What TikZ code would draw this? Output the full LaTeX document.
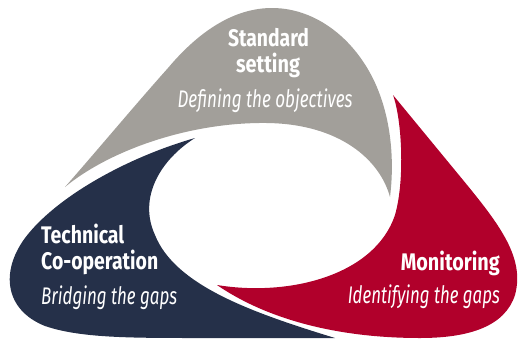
\documentclass[tikz,border=0pt]{standalone}
\usepackage{fontspec}
\usepackage{graphicx}
\setmainfont{Fira Sans}
\definecolor{cgray}{HTML}{A29F9A}
\definecolor{cnavy}{HTML}{253049}
\definecolor{cred}{HTML}{B1002B}
\newcommand{\fitw}[2]{\resizebox{#1}{\height}{#2}}
\tikzset{
  lbl/.style={text=white, inner sep=0pt, font=\fontsize{24}{26}\selectfont},
  hd/.style={lbl, font=\fontsize{24}{26}\selectfont\bfseries},
  sub/.style={lbl, font=\fontsize{24}{26}\selectfont\itshape},
}
\begin{document}
\begin{tikzpicture}[x=1pt,y=-1pt]
\useasboundingbox (0,0) rectangle (519,338);
% gray (top)
\fill[cgray] (65,187) .. controls (100,147) and (135,105) .. (168,68)
  .. controls (200,30) and (235,8) .. (272,8)
  .. controls (320,8) and (362,45) .. (380,95)
  .. controls (392,128) and (394,165) .. (390,197)
  .. controls (380,160) and (340,124) .. (267,123)
  .. controls (190,122) and (110,150) .. (65,187) -- cycle;
% navy (left)
\fill[cnavy] (195,138) .. controls (125,158) and (55,198) .. (25,238)
  .. controls (0,272) and (5,310) .. (45,326)
  .. controls (80,338) and (130,338) .. (200,338)
  -- (335,338)
  .. controls (250,312) and (175,285) .. (155,235)
  .. controls (138,198) and (160,160) .. (195,138) -- cycle;
% red (right)
\fill[cred] (393,95) -- (463,180)
  .. controls (500,225) and (525,258) .. (515,295)
  .. controls (505,326) and (470,338) .. (420,338)
  .. controls (330,338) and (262,316) .. (217,285)
  .. controls (290,297) and (375,275) .. (395,215)
  .. controls (405,180) and (402,120) .. (393,95) -- cycle;
% texts
\node[hd, anchor=base] (std1) at (268.5,46) {\fitw{81pt}{Standard}};
\node[hd, anchor=base] (std2) at (268,72) {\fitw{64pt}{setting}};
\node[sub, anchor=base] (stdsub) at (265,107) {\fitw{175pt}{Defining the objectives}};
\node[hd, anchor=base west] (tc1) at (41,243) {\fitw{83pt}{Technical}};
\node[hd, anchor=base west] (tc2) at (41,269) {\fitw{117pt}{Co-operation}};
\node[sub, anchor=base west] (tcsub) at (41,304) {\fitw{136pt}{Bridging the gaps}};
\node[hd, anchor=base east] (mon1) at (500,270) {\fitw{99pt}{Monitoring}};
\node[sub, anchor=base east] (monsub) at (500,303) {\fitw{152pt}{Identifying the gaps}};
\end{tikzpicture}
\end{document}
